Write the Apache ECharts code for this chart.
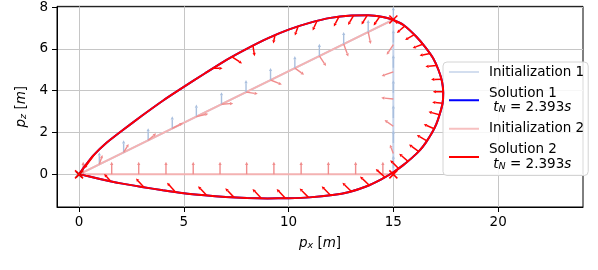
<!DOCTYPE html>
<html>
<head>
<meta charset="utf-8">
<script src="https://cdn.jsdelivr.net/npm/echarts@6.0.0/dist/echarts.min.js"></script>
<style>html,body{margin:0;padding:0;background:#fff}#c{width:598px;height:270px}</style>
</head>
<body>
<div id="c"></div>
<script>
// ---------- data ----------
const xTicks = [0, 5, 10, 15, 20];
const zTicks = [0, 2, 4, 6, 8];

// optimised trajectory (solution 1 and 2 coincide)
const solutionX = [0, 0.3, 0.7, 1.3, 2, 3, 4, 5, 6, 7, 8, 9, 10, 11, 12, 13, 13.8, 14.5, 15, 15.5,
  16.1, 16.55, 16.9, 17.15, 17.32, 17.38, 17.35, 17.22, 17.05, 16.83, 16.55, 16.27, 15.9, 15.47, 15,
  14.4, 13.7, 12.9, 12.1, 11, 10, 9, 8, 7, 6, 5, 4, 3, 2, 1, 0.4, 0];
const solutionZ = [0, 0.42, 0.92, 1.5, 2.05, 2.8, 3.52, 4.18, 4.82, 5.45, 6.0, 6.5, 6.92, 7.24, 7.48, 7.59, 7.6, 7.52, 7.38, 7.13,
  6.58, 6.05, 5.55, 5.0, 4.45, 3.9, 3.4, 2.9, 2.4, 1.96, 1.52, 1.16, 0.8, 0.44, 0.1,
  -0.25, -0.58, -0.84, -0.99, -1.1, -1.14, -1.15, -1.13, -1.08, -1.0, -0.9, -0.76, -0.6, -0.43, -0.22, -0.08, 0];

// initial guesses
const init1X = [0, 15, 15];
const init1Z = [0, 7.4, 0];
const init2X = [15, 0, 15];
const init2Z = [0, 0, 7.4];

// waypoints
const waypointX = [0, 15, 15];
const waypointZ = [0, 7.4, 0];

// quiver arrows: [x, z, u, w]
const solutionArrows = [
  [0.75, 0.97, -0.5, -0.68], [6.4, 5.07, 0.45, 0.0], [7.3, 5.62, 0.48, -0.32], [8.3, 6.15, 0.08, -0.5],
  [9.35, 6.64, -0.08, -0.38], [10.45, 7.06, -0.15, -0.42], [11.35, 7.32, -0.2, -0.44], [12.4, 7.53, -0.24, -0.46],
  [13.1, 7.59, -0.26, -0.45], [13.75, 7.6, -0.27, -0.44], [14.35, 7.54, -0.29, -0.42],
  [15.55, 7.1, -0.38, -0.34], [16.0, 6.68, -0.44, -0.26], [16.4, 6.22, -0.48, -0.18], [16.75, 5.78, -0.5, -0.1],
  [17.05, 5.2, -0.52, -0.05], [17.3, 4.55, -0.5, -0.02], [17.38, 3.95, -0.5, 0.0], [17.35, 3.4, -0.5, 0.05],
  [17.2, 2.85, -0.52, 0.14], [16.95, 2.18, -0.5, 0.22], [16.6, 1.6, -0.48, 0.28], [16.2, 1.1, -0.45, 0.33],
  [15.7, 0.62, -0.42, 0.37], [15.25, 0.28, -0.4, 0.4],
  [14.6, -0.14, -0.44, 0.4], [13.85, -0.52, -0.44, 0.42], [13.0, -0.82, -0.43, 0.42], [12.0, -1.0, -0.42, 0.43],
  [10.95, -1.1, -0.42, 0.43], [9.85, -1.14, -0.42, 0.44], [8.7, -1.14, -0.42, 0.44], [7.4, -1.1, -0.42, 0.44],
  [6.1, -1.01, -0.42, 0.44], [4.6, -0.84, -0.4, 0.44], [3.1, -0.62, -0.38, 0.42], [1.5, -0.32, -0.3, 0.34]
];
const init1Arrows = [
  [0.97, 0.48, 0, 0.58], [2.13, 1.05, 0, 0.58], [3.3, 1.63, 0, 0.58], [4.45, 2.2, 0, 0.58],
  [5.6, 2.76, 0, 0.58], [6.8, 3.35, 0, 0.58], [7.97, 3.93, 0, 0.58], [9.14, 4.51, 0, 0.58],
  [10.3, 5.08, 0, 0.58], [11.47, 5.66, 0, 0.58], [12.63, 6.23, 0, 0.58], [13.8, 6.81, 0, 0.58],
  [15, 0.3, 0, 0.6], [15, 1.5, 0, 0.6], [15, 2.7, 0, 0.6], [15, 3.9, 0, 0.6], [15, 5.1, 0, 0.6],
  [15, 6.3, 0, 0.6], [15, 7.4, 0, 0.6]
];
const init2Arrows = [
  [0.97, 0.48, 0.15, 0.45], [2.13, 1.05, 0.24, 0.4], [3.3, 1.63, 0.38, 0.33], [4.45, 2.2, 0.5, 0.25],
  [5.6, 2.76, 0.57, 0.14], [6.8, 3.35, 0.56, 0.04], [7.97, 3.93, 0.56, -0.08], [9.14, 4.51, 0.54, -0.22],
  [10.3, 5.08, 0.44, -0.32], [11.47, 5.66, 0.32, -0.48], [12.63, 6.23, 0.22, -0.6], [13.8, 6.81, 0.12, -0.58],
  [15, 6.2, -0.32, -0.48], [15, 4.9, -0.56, -0.2], [15, 3.6, -0.58, 0.06], [15, 2.3, -0.42, 0.3], [15, 1.0, -0.16, 0.42],
  [0.2, 0, 0, 0.6], [1.56, 0, 0, 0.6], [2.85, 0, 0, 0.6], [4.15, 0, 0, 0.6], [5.45, 0, 0, 0.6], [6.73, 0, 0, 0.6],
  [8.0, 0, 0, 0.6], [9.3, 0, 0, 0.6], [10.6, 0, 0, 0.6], [11.9, 0, 0, 0.6], [13.2, 0, 0, 0.6], [14.5, 0, 0, 0.6]
];

// ---------- helpers ----------
const zip = (a, b) => a.map((v, i) => [v, b[i]]);
const FONT = 'DejaVu Sans';

function quiver(color, width) {
  return function (params, api) {
    const x = api.value(0), y = api.value(1), u = api.value(2), v = api.value(3);
    const p0 = api.coord([x, y]);
    const p1 = api.coord([x + u, y + v]);
    const dx = p1[0] - p0[0], dy = p1[1] - p0[1];
    const L = Math.hypot(dx, dy) || 1;
    const ux = dx / L, uy = dy / L;
    const hl = 3.2, hw = 1.6;
    const b = [p1[0] - ux * hl, p1[1] - uy * hl];
    return {
      type: 'group',
      children: [
        { type: 'line', shape: { x1: p0[0], y1: p0[1], x2: b[0], y2: b[1] },
          style: { stroke: color, lineWidth: width } },
        { type: 'polygon', shape: { points: [p1, [b[0] - uy * hw, b[1] + ux * hw], [b[0] + uy * hw, b[1] - ux * hw]] },
          style: { fill: color } }
      ]
    };
  };
}
function cross(color, half, width) {
  return function (params, api) {
    const p = api.coord([api.value(0), api.value(1)]);
    return {
      type: 'group',
      children: [
        { type: 'line', shape: { x1: p[0] - half, y1: p[1] - half, x2: p[0] + half, y2: p[1] + half }, style: { stroke: color, lineWidth: width } },
        { type: 'line', shape: { x1: p[0] - half, y1: p[1] + half, x2: p[0] + half, y2: p[1] - half }, style: { stroke: color, lineWidth: width } }
      ]
    };
  };
}

const rich = {
  a: { fontFamily: FONT, fontSize: 13.5, color: '#000', lineHeight: 14.5 },
  a0: { fontFamily: FONT, fontSize: 13.5, color: '#000', lineHeight: 14.5, padding: [0, 0, 0, 5] },
  i: { fontFamily: FONT, fontSize: 13.5, color: '#000', fontStyle: 'italic', lineHeight: 14.5 },
  s: { fontFamily: FONT, fontSize: 9.5, color: '#000', fontStyle: 'italic', lineHeight: 9, verticalAlign: 'bottom' }
};

const chart = echarts.init(document.getElementById('c'), null, { renderer: 'canvas' });
chart.setOption({
  animation: false,
  backgroundColor: '#fff',
  grid: { left: 57, right: 15, top: 6, bottom: 63, show: true, borderColor: '#000', borderWidth: 1 },
  xAxis: {
    type: 'value', min: -1.05, max: 24.05, splitNumber: 5,
    axisLine: { show: true, onZero: false, lineStyle: { color: '#000', width: 1 } },
    axisTick: { show: true, length: 5, customValues: xTicks, lineStyle: { color: '#000' } },
    axisLabel: { customValues: xTicks, margin: 8, fontSize: 13.5, fontFamily: FONT, color: '#000' },
    splitLine: { show: true, lineStyle: { color: '#c6c6c6', width: 1 } },
    name: '{i|p}{s|x}{a| [}{i|m}{a|]}', nameLocation: 'middle', nameGap: 29,
    nameTextStyle: { rich: rich }
  },
  yAxis: {
    type: 'value', min: -1.56, max: 8.03, splitNumber: 5,
    axisLine: { show: true, onZero: false, lineStyle: { color: '#000', width: 1 } },
    axisTick: { show: true, length: 5, customValues: zTicks, lineStyle: { color: '#000' } },
    axisLabel: { customValues: zTicks, margin: 9, fontSize: 13.5, fontFamily: FONT, color: '#000' },
    splitLine: { show: true, lineStyle: { color: '#c6c6c6', width: 1 } },
    name: '{i|p}{s|z}{a| [}{i|m}{a|]}', nameLocation: 'middle', nameGap: 22,
    nameTextStyle: { rich: rich }
  },
  legend: {
    left: 443, top: 62, orient: 'vertical', itemGap: 7, itemWidth: 30, itemHeight: 14,
    padding: [3, 4, 4, 5],
    backgroundColor: 'rgba(255,255,255,0.85)', borderColor: '#d4d4d4', borderWidth: 1, borderRadius: 4,
    itemStyle: { opacity: 0 },
    data: [
      { name: 'Initialization 1', itemStyle: { opacity: 0 }, lineStyle: { color: '#d3deef', width: 2, opacity: 1 } },
      { name: 'Solution 1', itemStyle: { opacity: 0 }, lineStyle: { color: '#0000ff', width: 2, opacity: 1 } },
      { name: 'Initialization 2', itemStyle: { opacity: 0 }, lineStyle: { color: '#f7c0c0', width: 2, opacity: 1 } },
      { name: 'Solution 2', itemStyle: { opacity: 0 }, lineStyle: { color: '#ff0000', width: 2, opacity: 1 } }
    ],
    formatter: function (name) {
      if (name.indexOf('Solution') === 0) {
        return '{a0|' + name + '}\n{a0| }{i|t}{s|N}{a| = 2.393}{i|s}';
      }
      return '{a0|' + name + '}';
    },
    textStyle: { rich: rich }
  },
  series: [
    { name: 'Initialization 1', type: 'line', data: zip(init1X, init1Z), symbol: 'none', z: 2,
      lineStyle: { color: '#c3d2ea', width: 2 } },
    { name: 'Initialization 2', type: 'line', data: zip(init2X, init2Z), symbol: 'none', z: 3,
      lineStyle: { color: '#f4b2b2', width: 2 } },
    { name: 'init1 arrows', type: 'custom', data: init1Arrows, clip: true, z: 4,
      encode: { x: 0, y: 1 }, renderItem: quiver('#a9bfde', 1.4), silent: true },
    { name: 'init2 arrows', type: 'custom', data: init2Arrows, clip: true, z: 4,
      encode: { x: 0, y: 1 }, renderItem: quiver('#f08c8c', 1.4), silent: true },
    { name: 'Solution 1', type: 'line', data: zip(solutionX, solutionZ), symbol: 'none', smooth: 0.2, z: 5,
      lineStyle: { color: '#0000ff', width: 2 } },
    { name: 'Solution 2', type: 'line', data: zip(solutionX, solutionZ), symbol: 'none', smooth: 0.2, z: 6,
      lineStyle: { color: '#ff0000', width: 2 } },
    { name: 'solution arrows', type: 'custom', data: solutionArrows, clip: true, z: 7,
      encode: { x: 0, y: 1 }, renderItem: quiver('#ff0000', 1.5), silent: true },
    { name: 'start', type: 'custom', data: [[waypointX[0], waypointZ[0]]], z: 8,
      encode: { x: 0, y: 1 }, renderItem: cross('#000000', 3, 1.5), silent: true },
    { name: 'waypoints', type: 'custom', data: zip(waypointX, waypointZ), z: 9,
      encode: { x: 0, y: 1 }, renderItem: cross('#ff0000', 4, 1.5), silent: true }
  ]
});
</script>
</body>
</html>
